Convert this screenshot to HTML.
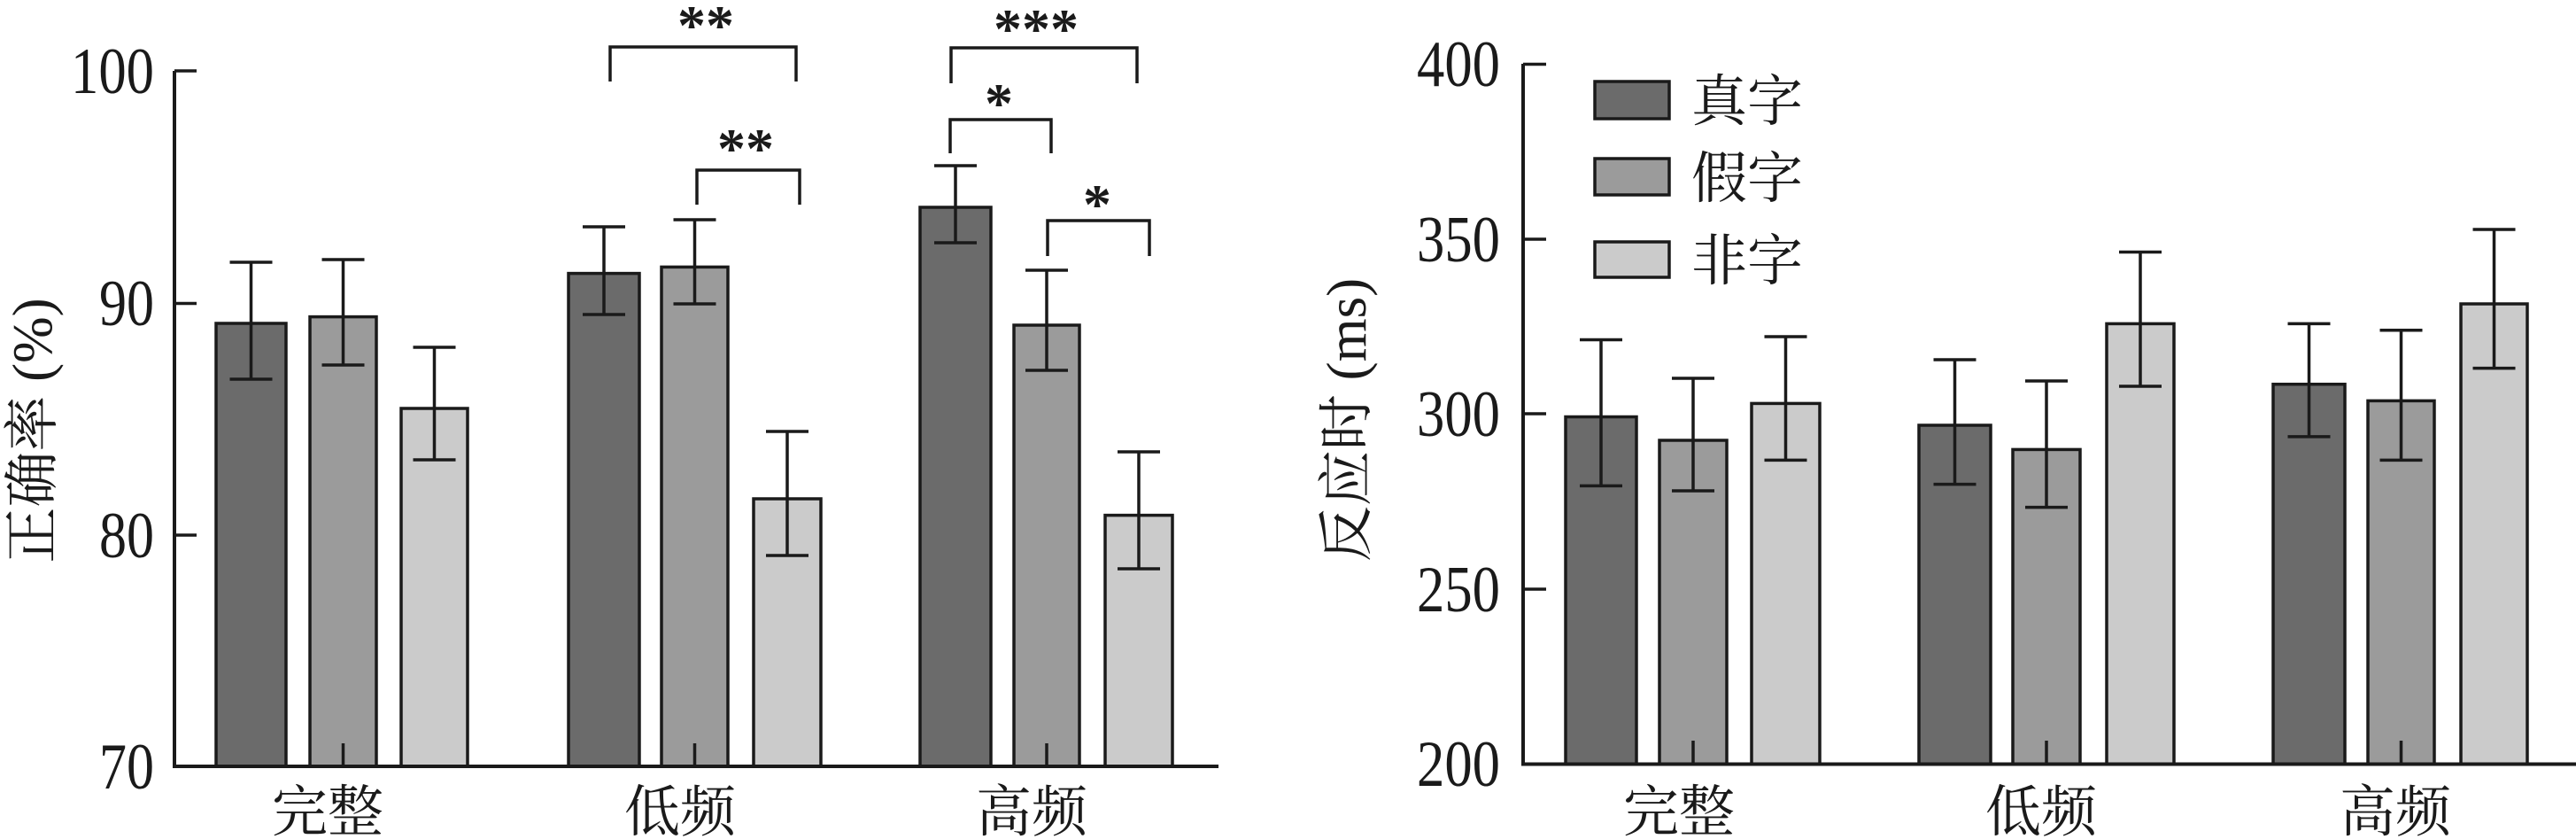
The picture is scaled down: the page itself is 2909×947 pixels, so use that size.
<!DOCTYPE html>
<html><head><meta charset="utf-8"><style>
html,body{margin:0;padding:0;background:#fff;}
svg{display:block;}
.n{font-family:"Liberation Serif",serif;font-size:74px;fill:#1a1a1a;}
.c{font-family:"Liberation Serif","Noto Serif CJK SC",serif;font-size:63px;fill:#1a1a1a;}
.s{font-family:"Liberation Serif",serif;font-size:64px;fill:#1a1a1a;font-weight:bold;}
</style></head><body>
<svg width="2909" height="947" viewBox="0 0 2909 947" xmlns="http://www.w3.org/2000/svg">
<g stroke="#1a1a1a" stroke-width="3.5">
<rect x="244" y="365" width="79" height="500" fill="#6b6b6b"/>
<rect x="350" y="357.6" width="75" height="507.4" fill="#9b9b9b"/>
<rect x="453" y="461" width="75" height="404" fill="#cbcbcb"/>
<rect x="642" y="308.6" width="80" height="556.4" fill="#6b6b6b"/>
<rect x="747" y="301.4" width="75" height="563.6" fill="#9b9b9b"/>
<rect x="851" y="563" width="76" height="302" fill="#cbcbcb"/>
<rect x="1039" y="234" width="80" height="631" fill="#6b6b6b"/>
<rect x="1145" y="367" width="74" height="498" fill="#9b9b9b"/>
<rect x="1248" y="581.6" width="76" height="283.4" fill="#cbcbcb"/>
</g>
<g stroke="#1a1a1a" stroke-width="3.5" fill="none">
<path d="M283.5 296V428M259.5 296H307.5M259.5 428H307.5"/>
<path d="M387.5 293V412M363.5 293H411.5M363.5 412H411.5"/>
<path d="M490.5 392V519M466.5 392H514.5M466.5 519H514.5"/>
<path d="M682 256V355M658 256H706M658 355H706"/>
<path d="M784.5 248V343M760.5 248H808.5M760.5 343H808.5"/>
<path d="M889 487V627M865 487H913M865 627H913"/>
<path d="M1079 187V274M1055 187H1103M1055 274H1103"/>
<path d="M1182 305V418M1158 305H1206M1158 418H1206"/>
<path d="M1286 510V642M1262 510H1310M1262 642H1310"/>
<path d="M387.5 839V865M784.5 839V865M1182 839V865"/>
<path d="M197 80V867M195 865H1376" stroke-width="4"/>
<path d="M197 80H222M197 342.5H222M197 604H222"/>
<path d="M689 92V53H899V92"/>
<path d="M787 231V192H903V231"/>
<path d="M1074 94V54H1284V94"/>
<path d="M1073 173V135H1187V173"/>
<path d="M1183 289V249H1298V289"/>
</g>
<text class="s" x="797" y="50" text-anchor="middle">**</text>
<text class="s" x="842" y="189" text-anchor="middle">**</text>
<text class="s" x="1170" y="54" text-anchor="middle">***</text>
<text class="s" x="1128" y="138" text-anchor="middle">*</text>
<text class="s" x="1239" y="252" text-anchor="middle">*</text>
<g class="n" text-anchor="end">
<text x="174" y="105" textLength="94" lengthAdjust="spacingAndGlyphs">100</text>
<text x="174" y="367" textLength="62" lengthAdjust="spacingAndGlyphs">90</text>
<text x="174" y="629" textLength="62" lengthAdjust="spacingAndGlyphs">80</text>
<text x="174" y="890" textLength="62" lengthAdjust="spacingAndGlyphs">70</text>
</g>
<g class="c" text-anchor="middle">
<text x="370" y="938">完整</text>
<text x="768" y="938">低频</text>
<text x="1165" y="938">高频</text>
<text transform="translate(58,486) rotate(-90)">正确率 (%)</text>
</g>

<g stroke="#1a1a1a" stroke-width="3.5">
<rect x="1768" y="470.5" width="80" height="392" fill="#6b6b6b"/>
<rect x="1874" y="497" width="76" height="365.5" fill="#9b9b9b"/>
<rect x="1978" y="455.4" width="77" height="407.1" fill="#cbcbcb"/>
<rect x="2167" y="480" width="81" height="382.5" fill="#6b6b6b"/>
<rect x="2273" y="507.4" width="76" height="355.1" fill="#9b9b9b"/>
<rect x="2379" y="365.4" width="76" height="497.1" fill="#cbcbcb"/>
<rect x="2567" y="433.7" width="81" height="428.8" fill="#6b6b6b"/>
<rect x="2674" y="452.4" width="75" height="410.1" fill="#9b9b9b"/>
<rect x="2779" y="343" width="75" height="519.5" fill="#cbcbcb"/>
<rect x="1801" y="92" width="84" height="42" fill="#6b6b6b"/>
<rect x="1801" y="179" width="84" height="41" fill="#9b9b9b"/>
<rect x="1801" y="273" width="84" height="40" fill="#cbcbcb"/>
</g>
<g stroke="#1a1a1a" stroke-width="3.5" fill="none">
<path d="M1808 383.5V548.4M1784 383.5H1832M1784 548.4H1832"/>
<path d="M1912 427V554M1888 427H1936M1888 554H1936"/>
<path d="M2016.5 380V519.4M1992.5 380H2040.5M1992.5 519.4H2040.5"/>
<path d="M2207.5 406V546.6M2183.5 406H2231.5M2183.5 546.6H2231.5"/>
<path d="M2311 430V572.6M2287 430H2335M2287 572.6H2335"/>
<path d="M2417 284.5V436M2393 284.5H2441M2393 436H2441"/>
<path d="M2607.5 365.4V492.9M2583.5 365.4H2631.5M2583.5 492.9H2631.5"/>
<path d="M2711.5 372.7V519.4M2687.5 372.7H2735.5M2687.5 519.4H2735.5"/>
<path d="M2816.5 259V415.6M2792.5 259H2840.5M2792.5 415.6H2840.5"/>
<path d="M1912 836V862M2311 836V862M2711.5 836V862"/>
<path d="M1720 72V864.5M1718 862.5H2909" stroke-width="4"/>
<path d="M1720 72.5H1746M1720 270H1746M1720 467H1746M1720 665H1746"/>
</g>
<g class="n" text-anchor="end">
<text x="1694" y="97" textLength="94" lengthAdjust="spacingAndGlyphs">400</text>
<text x="1694" y="295" textLength="94" lengthAdjust="spacingAndGlyphs">350</text>
<text x="1694" y="492" textLength="94" lengthAdjust="spacingAndGlyphs">300</text>
<text x="1694" y="690" textLength="94" lengthAdjust="spacingAndGlyphs">250</text>
<text x="1694" y="887" textLength="94" lengthAdjust="spacingAndGlyphs">200</text>
</g>
<g class="c">
<text x="1910" y="136">真字</text>
<text x="1910" y="223">假字</text>
<text x="1910" y="316">非字</text>
</g>
<g class="c" text-anchor="middle">
<text x="1896" y="938">完整</text>
<text x="2305" y="938">低频</text>
<text x="2705" y="938">高频</text>
<text transform="translate(1542,474) rotate(-90)">反应时 (ms)</text>
</g>
</svg>
</body></html>
